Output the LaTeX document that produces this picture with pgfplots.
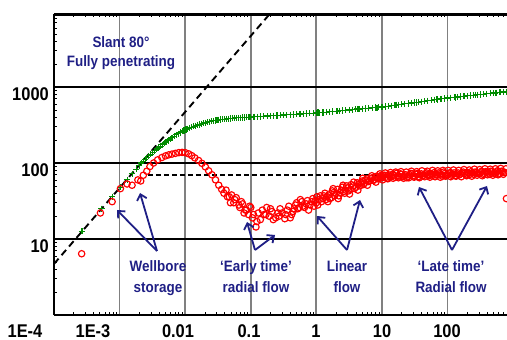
\documentclass[border=0pt]{standalone}
\usepackage{pgfplots}
\pgfplotsset{compat=1.18}
\usepackage{fontspec}
\setmainfont{Liberation Sans}
\usepackage{graphicx}
\usetikzlibrary{arrows.meta}
\definecolor{navy}{rgb}{0.12,0.12,0.52}
\definecolor{dgreen}{rgb}{0,0.55,0}
\newcommand{\vs}[1]{\scalebox{1}[1.12]{#1}}
\newcommand{\tk}{\fontsize{16.5}{18}\selectfont\bfseries}
\newcommand{\an}{\fontsize{13.5}{15}\selectfont\bfseries\color{navy}}
\begin{document}
\begin{tikzpicture}
\path[use as bounding box] (-54bp,-25bp) rectangle (453bp,315bp);
\begin{axis}[at={(0,0)}, anchor=south west, scale only axis,
  width=452.8bp, height=300.5bp,
  xmode=log, ymode=log, xmin=1e-4, xmax=800, ymin=1, ymax=9000,
  axis x line=box, axis y line=left, y axis line style={-},
  axis line style={line width=2.2bp, black},
  xtick={1e-4,1e-3,1e-2,1e-1,1,10,100}, xticklabels={},
  ytick={10,100,1000}, yticklabels={\vs{10},\vs{100},\vs{1000}},
  yticklabel style={font=\tk, inner sep=0pt, anchor=east, xshift=-5bp, yshift=-7bp},
  minor xtick={2e-4,3e-4,4e-4,5e-4,6e-4,7e-4,8e-4,9e-4,2e-3,3e-3,4e-3,5e-3,6e-3,7e-3,8e-3,9e-3,0.02,0.03,0.04,0.05,0.06,0.07,0.08,0.09,0.2,0.3,0.4,0.5,0.6,0.7,0.8,0.9,2,3,4,5,6,7,8,9,20,30,40,50,60,70,80,90,200,300,400,500,600,700},
  minor ytick={2,3,4,5,6,7,8,9,20,30,40,50,60,70,80,90,200,300,400,500,600,700,800,900,2000,3000,4000,5000,6000,7000,8000},
  tick align=inside, major tick length=0pt, minor tick length=3bp,
  every tick/.style={black, line width=0.7bp},
  xmajorgrids, ymajorgrids,
  major x grid style={black!50, line width=1.8bp},
  major y grid style={black, line width=1.1bp},
]
% unit slope and radial flow stabilisation lines
\addplot[black, line width=1.9bp, dash pattern=on 7bp off 4.5bp] coordinates {(1e-4,4.7) (1,47000)};
\addplot[black, line width=1.9bp, dash pattern=on 5bp off 3bp] coordinates {(0.0027,70) (9,70)};
% pressure change
\addplot[only marks, mark=+, mark size=3.1bp, color=dgreen, mark options={line width=1.1bp}] coordinates {
(2.67e-4,12.7) (5.3e-4,25) (7.7e-4,36) (1.03e-3,48) (1.3e-3,60) (1.55e-3,72) (1.8e-3,83)
(2.0e-3,93) (2.15e-3,100) (2.3e-3,106) (2.45e-3,112) (2.6e-3,117) (2.8e-3,124) (3.0e-3,131)
(3.2e-3,137) (3.45e-3,145) (3.7e-3,153) (3.95e-3,160) (4.2e-3,166) (4.5e-3,174) (4.8e-3,182)
(5.1e-3,189) (5.5e-3,198) (5.9e-3,207) (6.3e-3,215) (6.8e-3,226) (7.3e-3,235) (7.8e-3,243)
(8.4e-3,252) (9e-3,261) (9.6e-3,268) (0.0103,276) (0.011,283) (0.0118,290) (0.0126,297)
(0.0135,304) (0.0145,310) (0.0155,316) (0.0166,322) (0.0178,328) (0.019,334) (0.0204,340)
(0.0218,345) (0.0233,350) (0.025,355) (0.0267,359) (0.0286,363) (0.0306,367) (0.0327,370)
(0.035,373) (0.0375,376) (0.04,378) (0.043,381) (0.046,384) (0.049,386) (0.053,388)
(0.056,390) (0.06,392) (0.064,394) (0.069,395) (0.074,397) (0.079,398) (0.085,400)
(0.091,401) (0.097,402)
(0.1,403) (0.112,405) (0.126,408) (0.141,410) (0.158,413) (0.178,415) (0.2,418) (0.224,420)
(0.251,423) (0.282,425) (0.316,428) (0.355,430) (0.398,433) (0.447,435) (0.501,438) (0.562,441)
(0.631,444) (0.708,447) (0.794,450) (0.891,452)
(1,455) (1.12,459) (1.26,463) (1.41,468) (1.58,472) (1.78,476) (2,481) (2.24,485) (2.51,490)
(2.82,494) (3.16,499) (3.55,503) (3.98,508) (4.47,513) (5.01,518) (5.62,522) (6.31,527)
(7.08,532) (7.94,537) (8.91,541)
(10,546) (11.2,553) (12.6,561) (14.1,569) (15.8,576) (17.8,584) (20,592) (22.4,600) (25.1,608)
(28.2,617) (31.6,625) (35.5,634) (39.8,642) (44.7,651) (50.1,660) (56.2,669) (63.1,678)
(70.8,687) (79.4,697) (89.1,706)
(100,716) (112,724) (126,732) (141,740) (158,748) (178,756) (200,764) (224,773) (251,781)
(282,790) (316,798) (355,807) (398,816) (447,825) (501,834) (562,843) (631,852) (708,861) (794,870)
(1.06,462) (2.1,478) (4.2,515) (8.4,535) (16.8,585) (33.5,625) (67,690) (134,730) (268,792) (535,834)
};
% pressure derivative
\addplot[only marks, mark=o, mark size=3.2bp, color=red, mark options={line width=1.15bp}] coordinates {
(2.64e-4,6.4) (5.1e-4,22) (7.7e-4,31) (1.03e-3,46) (1.3e-3,53) (1.55e-3,51) (1.9e-3,60)
(2.1e-3,58) (2.3e-3,69) (2.6e-3,78) (2.9e-3,90) (3.3e-3,100) (3.8e-3,110) (4.4e-3,118)
(5e-3,124) (5.6e-3,128) (6.3e-3,131) (7.1e-3,134) (8e-3,137) (9e-3,138) (0.01,137)
(0.0113,132) (0.0126,125) (0.014,117) (0.016,108) (0.018,99) (0.0203,89) (0.0228,79)
(0.0256,70) (0.029,60) (0.0325,51) (0.036,45) (0.039,40) (0.042,44) (0.044,36) (0.047,36)
(0.049,30) (0.051,38) (0.055,30) (0.057,33) (0.06,35) (0.066,28) (0.068,26) (0.072,31)
(0.075,29) (0.079,22) (0.083,24) (0.086,24) (0.092,21) (0.096,27) (0.1,26) (0.106,19)
(0.11,21) (0.12,14.4) (0.124,17) (0.13,22) (0.14,18) (0.15,24) (0.16,21) (0.17,21)
(0.175,26) (0.19,20) (0.2,25) (0.21,23) (0.22,18) (0.24,19) (0.26,22) (0.27,20) (0.28,25)
(0.3,22) (0.33,18.5) (0.34,21) (0.36,24) (0.38,27) (0.4,19) (0.42,21) (0.44,23) (0.46,25)
(0.48,28) (0.5,30) (0.52,25) (0.55,26) (0.57,33) (0.6,31) (0.62,27) (0.66,26) (0.7,29)
(0.73,32) (0.76,24) (0.8,28) (0.85,31) (0.88,34) (0.92,27) (0.96,32) (1.0,30) (1.02,36)
(1.05,28) (1.1,33) (1.15,37) (1.2,31) (1.25,34) (1.3,37) (1.35,40) (1.4,33) (1.45,36)
(1.55,38) (1.6,34) (1.7,35) (1.75,43) (1.85,41) (1.9,37) (2.0,40) (2.1,45) (2.2,37) (2.3,41)
(2.4,44) (2.5,48) (2.6,42) (2.7,40) (2.8,44) (2.9,50) (3.0,47) (3.1,43) (3.3,45) (3.4,52)
(3.6,50) (3.8,46) (4.0,48) (4.2,55) (4.4,53) (4.6,50) (4.8,55) (5,58) (5.2,52) (5.4,54)
(5.6,60) (5.9,62) (6.2,57) (6.5,58) (6.8,62) (7.1,64) (7.4,59) (7.7,61) (8,65) (8.3,67)
(8.7,62) (9,63) (9.5,66) (9.8,69)
(1.5,31) (1.8,46) (2.15,34) (2.55,51) (3.2,39) (3.7,56) (4.3,44) (5.1,63) (6,51) (7,68) (8.1,56) (9.3,72)
(10,64) (11,69) (12,63) (13.2,67) (14.5,71) (15.8,65) (17.4,68) (19,72) (20.9,66) (22.9,70)
(25.1,67) (27.5,73) (30.2,68) (33.1,71) (36.3,66) (39.8,72) (43.7,69) (47.9,74) (52.5,68)
(57.5,71) (63.1,75) (69.2,69) (75.9,72) (83.2,67) (91.2,73) (100,70) (110,75) (120,71)
(132,68) (145,74) (158,72) (174,76) (191,70) (209,73) (229,77) (251,71) (275,75) (302,72)
(331,78) (363,73) (398,76) (437,71) (479,77) (525,74) (575,79) (631,73) (692,77) (759,75)
(10.5,68) (11.5,65) (12.6,70) (13.8,66) (15.1,69) (16.6,73) (18.2,67) (20,71) (21.9,68)
(24,64) (26.3,70) (28.8,72) (31.6,67) (34.7,73) (38,70) (41.7,68) (45.7,72) (50.1,70)
(55,73) (60.3,69) (66.1,71) (72.4,74) (79.4,70) (87.1,76) (95.5,69) (105,72) (115,69)
(126,74) (138,72) (151,70) (166,74) (182,73) (200,75) (219,71) (240,74) (263,76) (288,73)
(316,74) (347,71) (380,77) (417,74) (457,78) (501,73) (550,76) (603,72) (661,78) (724,75)
(10.25,60) (11.25,74) (12.3,62) (13.5,75) (14.8,63) (16.2,76) (17.8,64) (19.5,77) (21.4,63)
(23.4,76) (25.7,64) (28.1,78) (30.9,65) (33.9,77) (37.1,64) (40.7,79) (44.7,66) (49,78)
(53.7,65) (58.9,80) (64.6,66) (70.8,79) (77.6,65) (85.1,80) (93.3,67) (102,80) (112,66)
(123,81) (135,67) (148,80) (162,66) (178,82) (195,68) (214,81) (234,67) (257,83) (282,69)
(309,82) (339,68) (371,84) (407,70) (447,83) (490,69) (537,84) (589,70) (646,85) (708,71)
(776,84)
(790,34)
};
\end{axis}
% x tick labels
\begin{scope}[every node/.style={font=\tk, inner sep=0pt, anchor=center}]
\node at (-29bp,-16bp) {\vs{1E-4}};
\node at (39bp,-16bp) {\vs{1E-3}};
\node at (124bp,-16bp) {\vs{0.01}};
\node at (195bp,-16bp) {\vs{0.1}};
\node at (262bp,-16bp) {\vs{1}};
\node at (328bp,-16bp) {\vs{10}};
\node at (393bp,-16bp) {\vs{100}};
\end{scope}
% annotations
\begin{scope}[every node/.style={font=\an, inner sep=0pt, anchor=base}]
\node at (67bp,267bp) {\vs{Slant 80°}};
\node at (67bp,248bp) {\vs{Fully penetrating}};
\node at (104bp,43bp) {\vs{Wellbore}};
\node at (104bp,23bp) {\vs{storage}};
\node at (202bp,43bp) {\vs{‘Early time’}};
\node at (202bp,23bp) {\vs{radial flow}};
\node at (293bp,43bp) {\vs{Linear}};
\node at (293bp,23bp) {\vs{flow}};
\node at (397bp,43bp) {\vs{‘Late time’}};
\node at (397bp,23bp) {\vs{Radial flow}};
\end{scope}
\begin{scope}[navy, line width=1.8bp, -{Straight Barb[length=5.5bp,width=10bp,line width=1.8bp]}]
\draw (103bp,64bp) -- (63bp,105bp);
\draw (103bp,64bp) -- (86bp,122bp);
\draw (201bp,65bp) -- (193bp,93bp);
\draw (201bp,65bp) -- (221bp,80bp);
\draw (293bp,65bp) -- (263bp,99bp);
\draw (293bp,65bp) -- (306bp,115bp);
\draw (398bp,65bp) -- (365bp,128bp);
\draw (398bp,65bp) -- (433bp,129bp);
\end{scope}
\end{tikzpicture}
\end{document}
